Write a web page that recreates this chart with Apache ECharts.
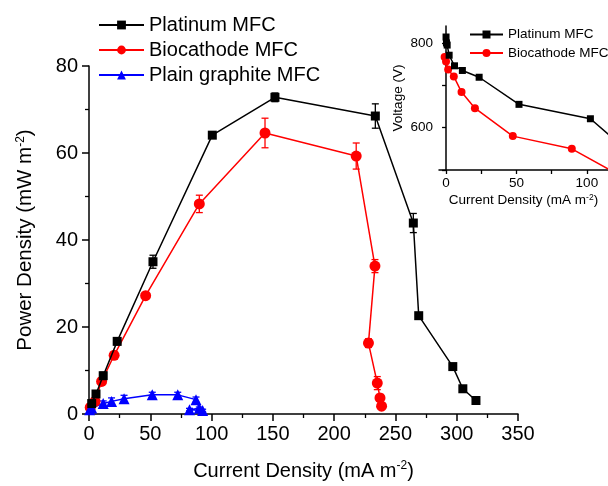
<!DOCTYPE html>
<html><head><meta charset="utf-8">
<script src="https://cdn.jsdelivr.net/npm/echarts@6/dist/echarts.min.js"></script>
<style>html,body{margin:0;padding:0;background:#fff}#c{width:608px;height:486px}</style>
</head><body><div id="c"></div>
<script>
// ---- Main plot: power density vs current density ----
const ptX  = [2.2, 5.7, 11.6, 23, 52.2, 100.6, 151.7, 233.6, 264.6, 269, 296.8, 305, 315.7];
const ptY  = [2.4, 4.6, 8.8, 16.7, 35, 64.1, 72.8, 68.5, 43.9, 22.6, 10.9, 5.8, 3.1];
const ptE  = [0.5, 0.5, 0.8, 0.8, 1.5, 0.5, 1.0, 2.8, 2.2, 0.5, 0.5, 0.5, 0.3];

const bioX = [1, 4.9, 10.3, 20.5, 46.2, 90, 143.6, 218, 233.3, 228, 235.2, 237.4, 238.7];
const bioY = [1.5, 2.9, 7.5, 13.5, 27.2, 48.3, 64.6, 59.3, 34, 16.3, 7.1, 3.7, 1.8];
const bioE = [0.3, 0.5, 0.8, 0.8, 0.5, 2.0, 3.4, 3.0, 1.5, 1.0, 1.5, 0.8, 0.5];

const plX  = [0.5, 2.2, 11.6, 18.4, 28.6, 51.6, 72.4, 87.3, 90, 82, 92.7];
const plY  = [1.0, 1.4, 2.4, 2.9, 3.5, 4.4, 4.4, 3.3, 1.3, 1.0, 0.8];
const plE  = [0.3, 0.4, 0.6, 0.8, 0.8, 0.6, 0.6, 0.6, 0.3, 0.3, 0.3];

// ---- Inset: voltage vs current density ----
const ptVX  = [0, 0.3, 0.8, 2.2, 6, 11.6, 23.5, 51.8, 102.5, 151.7];
const ptVY  = [814, 800, 795, 771, 746, 735, 719, 655, 621, 480];
const bioVX = [-1, 0, 1.5, 5.5, 11, 20.5, 47.4, 89.3, 143.6];
const bioVY = [767, 756, 737, 721, 684, 646, 580, 550, 450];

const names = ['Platinum MFC', 'Biocathode MFC', 'Plain graphite MFC'];
const mainXTicks = [0, 50, 100, 150, 200, 250, 300, 350];
const mainYTicks = [0, 20, 40, 60, 80];
const insetXLabels = [0, 50, 100];
const insetXTicks = [0, 25, 50, 75, 100];
const insetYLabels = [600, 800];
const insetYTicks = [500, 600, 700, 800];

const FONT = 'Liberation Sans, Arial, sans-serif';
const pair = (xs, ys) => xs.map((x, i) => [x, ys[i]]);

function errSeries(id, xs, ys, es, color) {
  return {
    type: 'custom', name: id, xAxisIndex: 0, yAxisIndex: 0, silent: true, z: 1,
    data: xs.map((x, i) => [x, ys[i] - es[i], ys[i] + es[i]]),
    encode: { x: 0, y: [1, 2] },
    renderItem: (params, api) => {
      const lo = api.coord([api.value(0), api.value(1)]);
      const hi = api.coord([api.value(0), api.value(2)]);
      const w = 3.5, st = { stroke: color, lineWidth: 1.3 };
      return { type: 'group', children: [
        { type: 'line', shape: { x1: lo[0], y1: lo[1], x2: hi[0], y2: hi[1] }, style: st },
        { type: 'line', shape: { x1: lo[0] - w, y1: lo[1], x2: lo[0] + w, y2: lo[1] }, style: st },
        { type: 'line', shape: { x1: hi[0] - w, y1: hi[1], x2: hi[0] + w, y2: hi[1] }, style: st }
      ]};
    }
  };
}

function richName(txt, fs, sfs) {
  return {
    text: '{a|' + txt + '}{s|-2}{a|)}',
    style: {
      fontFamily: FONT, color: '#000',
      rich: {
        a: { fontSize: fs, fontFamily: FONT, color: '#000', lineHeight: fs + 2 },
        s: { fontSize: sfs, fontFamily: FONT, color: '#000', verticalAlign: 'top', lineHeight: sfs }
      }
    }
  };
}
const mxName = richName('Current Density (mA m', 20, 12);
const myName = richName('Power Density (mW m', 20.5, 12);
const ixName = richName('Current Density (mA m', 13.5, 8.5);

const axisLine = { show: true, lineStyle: { color: '#000', width: 1.5 } };

const option = {
  animation: false,
  backgroundColor: '#fff',
  grid: [
    { left: 89, top: 66, width: 429, height: 350, show: false },
    { left: 439, top: 26, width: 182, height: 144, show: false }
  ],
  xAxis: [
    {
      gridIndex: 0, type: 'value', min: 0, max: 350, interval: 50,
      axisLine, splitLine: { show: false },
      axisTick: { show: true, inside: false, length: 7, lineStyle: { color: '#000', width: 1.5 } },
      minorTick: { show: true, splitNumber: 2, length: 4, lineStyle: { color: '#000', width: 1.3 } },
      axisLabel: { fontSize: 20, fontFamily: FONT, color: '#000', margin: 10,
        customValues: mainXTicks },
      name: mxName.text, nameLocation: 'middle', nameGap: 46,
      nameTextStyle: mxName.style
    },
    {
      gridIndex: 1, type: 'value', min: -5, max: 115,
      axisLine, splitLine: { show: false },
      axisTick: { show: true, inside: false, length: 4, customValues: insetXTicks, lineStyle: { color: '#000', width: 1.3 } },
      axisLabel: { fontSize: 13.5, fontFamily: FONT, color: '#000', margin: 6, customValues: insetXLabels },
      name: ixName.text, nameLocation: 'middle', nameGap: 23,
      nameTextStyle: ixName.style
    }
  ],
  yAxis: [
    {
      gridIndex: 0, type: 'value', min: 0, max: 80, interval: 20,
      axisLine, splitLine: { show: false },
      axisTick: { show: true, inside: false, length: 7, lineStyle: { color: '#000', width: 1.5 } },
      minorTick: { show: true, splitNumber: 2, length: 4, lineStyle: { color: '#000', width: 1.3 } },
      axisLabel: { fontSize: 20, fontFamily: FONT, color: '#000', margin: 11, customValues: mainYTicks },
      name: myName.text, nameLocation: 'middle', nameGap: 52, nameRotate: 90,
      nameTextStyle: myName.style
    },
    {
      gridIndex: 1, type: 'value', min: 500, max: 840,
      axisLine, splitLine: { show: false },
      axisTick: { show: true, inside: false, length: 4, customValues: insetYTicks, lineStyle: { color: '#000', width: 1.3 } },
      axisLabel: { fontSize: 13.5, fontFamily: FONT, color: '#000', margin: 6, customValues: insetYLabels },
      name: 'Voltage (V)', nameLocation: 'middle', nameGap: 34, nameRotate: 90,
      nameTextStyle: { fontSize: 13.5, fontFamily: FONT, color: '#000' }
    }
  ],
  legend: [
    {
      orient: 'vertical', left: 98, top: 15, padding: 0, itemWidth: 45, itemHeight: 11, itemGap: 5,
      data: names,
      textStyle: { fontSize: 20, fontFamily: FONT, color: '#000' },
      selectedMode: false
    },
    {
      orient: 'vertical', left: 469, top: 27.5, padding: 0, itemWidth: 33, itemHeight: 10, itemGap: 4.5,
      data: names.slice(0, 2),
      textStyle: { fontSize: 13.5, fontFamily: FONT, color: '#000' },
      selectedMode: false
    }
  ],
  series: [
    errSeries('errPt', ptX, ptY, ptE, '#000'),
    errSeries('errBio', bioX, bioY, bioE, '#ff0000'),
    errSeries('errPl', plX, plY, plE, '#0000ff'),
    {
      name: names[0], type: 'line', xAxisIndex: 0, yAxisIndex: 0, data: pair(ptX, ptY),
      symbol: 'rect', symbolSize: 9, itemStyle: { color: '#000' },
      lineStyle: { color: '#000', width: 1.5 }, z: 3
    },
    {
      name: names[1], type: 'line', xAxisIndex: 0, yAxisIndex: 0, data: pair(bioX, bioY),
      symbol: 'circle', symbolSize: 11, itemStyle: { color: '#ff0000' },
      lineStyle: { color: '#ff0000', width: 1.5 }, z: 2
    },
    {
      name: names[2], type: 'line', xAxisIndex: 0, yAxisIndex: 0, data: pair(plX, plY),
      symbol: 'triangle', symbolSize: 11, itemStyle: { color: '#0000ff' },
      lineStyle: { color: '#0000ff', width: 1.5 }, z: 2
    },
    {
      name: names[0], type: 'line', xAxisIndex: 1, yAxisIndex: 1, data: pair(ptVX, ptVY),
      symbol: 'rect', symbolSize: 7, itemStyle: { color: '#000' },
      lineStyle: { color: '#000', width: 1.5 }, clip: true, z: 3
    },
    {
      name: names[1], type: 'line', xAxisIndex: 1, yAxisIndex: 1, data: pair(bioVX, bioVY),
      symbol: 'circle', symbolSize: 8, itemStyle: { color: '#ff0000' },
      lineStyle: { color: '#ff0000', width: 1.5 }, clip: true, z: 2
    }
  ]
};

const chart = echarts.init(document.getElementById('c'), null, { renderer: 'canvas' });
chart.setOption(option);
</script>
</body></html>
